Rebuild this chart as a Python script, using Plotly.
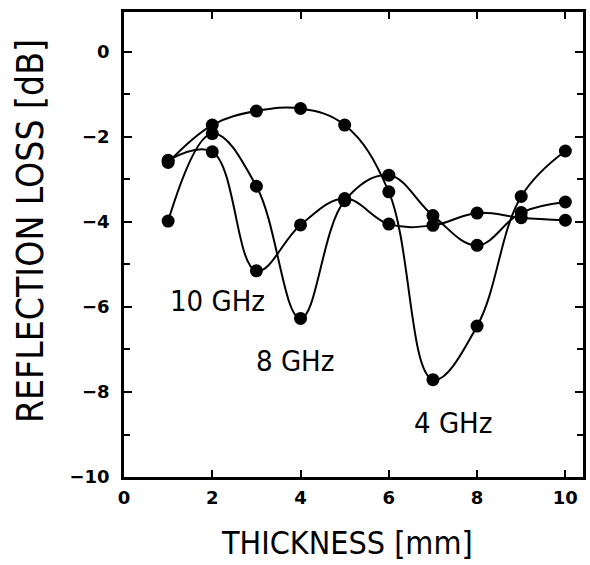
import plotly.graph_objects as go

thickness_mm = [1, 2, 3, 4, 5, 6, 7, 8, 9, 10]
loss_4ghz = [-2.60, -1.72, -1.39, -1.33, -1.72, -3.29, -7.71, -6.45, -3.40, -2.33]
loss_8ghz = [-3.98, -1.92, -3.16, -6.27, -3.50, -2.90, -3.85, -4.55, -3.78, -3.53]
loss_10ghz = [-2.55, -2.35, -5.15, -4.07, -3.45, -4.05, -4.08, -3.79, -3.90, -3.96]

series = [("4 GHz", loss_4ghz), ("8 GHz", loss_8ghz), ("10 GHz", loss_10ghz)]
label_pos = {"10 GHz": (2.11, -5.87), "8 GHz": (3.87, -7.28), "4 GHz": (7.45, -8.74)}

x_ticks = [0, 2, 4, 6, 8, 10]
y_ticks = [0, -2, -4, -6, -8, -10]

COND = "DejaVu Sans Condensed, Liberation Sans Narrow, DejaVu Sans"

fig = go.Figure()
for name, vals in series:
    fig.add_trace(go.Scatter(
        x=thickness_mm, y=vals, mode="lines+markers", name=name,
        line=dict(color="black", width=2, shape="spline", smoothing=1.1),
        marker=dict(color="black", size=13),
        showlegend=False,
    ))

for name, (lx, ly) in label_pos.items():
    fig.add_annotation(x=lx, y=ly, text=name, showarrow=False,
                       xanchor="center", yanchor="middle",
                       font=dict(family=COND, size=29, color="black"))

fig.add_annotation(x=-0.2035, y=0.528, xref="paper", yref="paper", text="REFLECTION LOSS [dB]",
                   textangle=-90, showarrow=False, xanchor="center", yanchor="middle",
                   font=dict(family=COND, size=37, color="black"))
fig.add_annotation(x=0.486, y=-0.1426, xref="paper", yref="paper", text="THICKNESS [mm]",
                   showarrow=False, xanchor="center", yanchor="middle",
                   font=dict(family=COND, size=32, color="black"))

fig.update_layout(
    width=590, height=565,
    margin=dict(l=124, r=4, t=12, b=88),
    paper_bgcolor="white", plot_bgcolor="white",
)
fig.update_xaxes(
    range=[0, 10.4], tickvals=x_ticks, ticktext=[str(v) for v in x_ticks],
    ticks="inside", ticklen=7, tickwidth=1.5, tickcolor="black",
    showline=True, linewidth=2.5, linecolor="black", mirror="ticks",
    showgrid=False, zeroline=False, ticklabelstandoff=3,
    tickfont=dict(family="DejaVu Sans", size=18, color="black", weight="bold"),
)
fig.update_yaxes(
    range=[-10, 0.94], tickvals=y_ticks, ticktext=["0", "−2", "−4", "−6", "−8", "−10"],
    ticks="inside", ticklen=8, tickwidth=1.5, tickcolor="black",
    minor=dict(dtick=1, tick0=0, ticks="inside", ticklen=6, tickwidth=1.5, tickcolor="black"),
    showline=True, linewidth=2.5, linecolor="black", mirror="ticks",
    showgrid=False, zeroline=False, ticklabelstandoff=8,
    tickfont=dict(family="DejaVu Sans", size=18, color="black", weight="bold"),
)

fig.write_html("out.html")
